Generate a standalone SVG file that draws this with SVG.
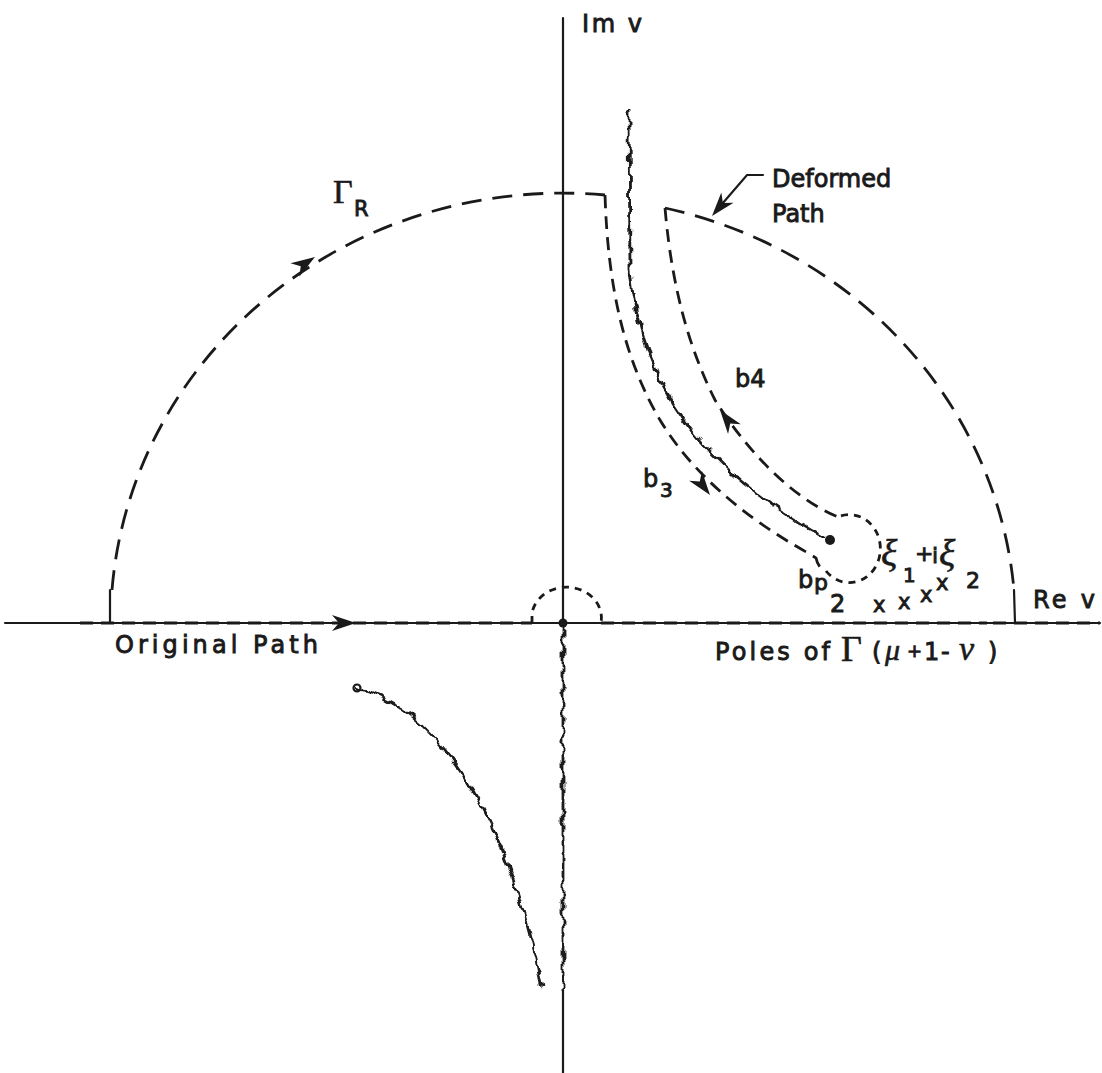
<svg xmlns="http://www.w3.org/2000/svg" width="1102" height="1073" viewBox="0 0 1102 1073">
<style>
.ln{fill:none;stroke:#1a1a1a;stroke-width:2.2;stroke-linecap:round}
.dl{fill:none;stroke:#1a1a1a;stroke-width:2.8;stroke-dasharray:20 11}
.dm{fill:none;stroke:#1a1a1a;stroke-width:2.8;stroke-dasharray:13 8}
.ds{fill:none;stroke:#1a1a1a;stroke-width:2.8;stroke-dasharray:7 6}
.wg{fill:none;stroke:#1a1a1a;stroke-width:2.8;stroke-linejoin:round;filter:url(#wiggle)}
.t{font-family:"DejaVu Sans","Liberation Sans",sans-serif;fill:#1a1a1a;stroke:#1a1a1a;stroke-width:0.9}
.m{font-family:"Liberation Serif","DejaVu Serif",serif;fill:#1a1a1a;stroke:#1a1a1a;stroke-width:0.6}
.ah{fill:#1a1a1a}
.dot{fill:#1a1a1a}
</style>
<defs>
<filter id="wiggle" filterUnits="userSpaceOnUse" x="0" y="0" width="1102" height="1073">
<feTurbulence type="fractalNoise" baseFrequency="0.11" numOctaves="1" seed="5" result="n"/>
<feDisplacementMap in="SourceGraphic" in2="n" scale="10" xChannelSelector="R" yChannelSelector="G"/>
</filter>
<path id="arrow" d="M0,0 L-24,-8 L-17,0 L-24,8 Z"/>
</defs>
<rect width="1102" height="1073" fill="#ffffff"/>

<g id="axes">
<line class="ln" x1="5" y1="623" x2="1100" y2="623"/>
<line class="ln" x1="563" y1="18" x2="563" y2="623"/>
<line class="ln" x1="563" y1="990" x2="563" y2="1073"/>
</g>

<g id="connectors">
<path id="original-path" class="dm" d="M80,623 L532,623 M601,623 L987,623 M993,623 L1100,623"/>
<path id="indent" class="ds" d="M532,623 L532,613 A34,30 0 0 1 601,623"/>
<path id="gamma-r" class="dl" d="M112,590 A452,430 0 0 1 605,195"/>
<line class="ln" x1="110" y1="590" x2="110" y2="623"/>
<path id="b3-path" class="dm" d="M605,195 C608,290 625,360 660,420 C690,470 740,515 808,553 L816,558 Q818,568 826,571"/>
<path id="keyhole" class="ds" d="M826,571 A31,34 0 1 0 838,517"/>
<path id="b4-path" class="dm" d="M665,208 C672,290 690,350 715,400 C740,440 785,495 838,517"/>
<path id="deformed-arc" class="dl" d="M665,208 A452,430 0 0 1 1014,590"/>
<line class="ln" x1="1014" y1="590" x2="1015" y2="623"/>
<path id="leader" class="ln" d="M763,175 L747,175 L716,211"/>
<use href="#arrow" class="ah" transform="translate(315,257) rotate(-33)"/>
<use href="#arrow" class="ah" transform="translate(356,623)"/>
<use href="#arrow" class="ah" transform="translate(710,495) rotate(53)"/>
<use href="#arrow" class="ah" transform="translate(720,410) rotate(-127)"/>
<use href="#arrow" class="ah" transform="translate(712,216) rotate(130)"/>
</g>

<g id="branch-cuts">
<path class="wg" d="M629,110 L630,270 C640,380 700,470 825,538"/>
<path class="wg" d="M563,623 L563,990"/>
<path class="wg" d="M357,688 C420,705 500,780 542,988"/>
</g>

<g id="points">
<circle class="dot" cx="563" cy="623" r="4.5"/>
<circle class="dot" cx="830" cy="540" r="5"/>
<circle cx="357" cy="688" r="3.5" fill="none" stroke="#1a1a1a" stroke-width="2.2"/>
</g>

<g id="poles">
<text class="t" font-size="21" x="873" y="612">x</text>
<text class="t" font-size="21" x="898" y="609">x</text>
<text class="t" font-size="21" x="920" y="602">x</text>
<text class="t" font-size="21" x="936" y="590">x</text>
</g>

<g id="labels">
<text class="t" font-size="24" x="582" y="32" textLength="60" lengthAdjust="spacing">Im v</text>
<text class="m" font-size="34" x="333" y="203">Γ</text>
<text class="t" font-size="21" x="354" y="216">R</text>
<text class="t" font-size="24" x="772" y="187">Deformed</text>
<text class="t" font-size="24" x="772" y="222">Path</text>
<text class="t" font-size="24" x="735" y="387">b4</text>
<text class="t" font-size="24" x="643" y="487">b</text>
<text class="t" font-size="20" x="660" y="497">3</text>
<text class="t" font-size="24" x="798" y="588">b</text>
<text class="t" font-size="22" x="814" y="590">p</text>
<text class="t" font-size="24" x="830" y="612">2</text>
<text class="m" font-size="38" font-style="italic" x="881" y="566">ξ</text>
<text class="t" font-size="20" x="903" y="582">1</text>
<text class="t" font-size="22" x="915" y="561">+</text>
<text class="t" font-size="22" x="932" y="563">i</text>
<text class="m" font-size="38" font-style="italic" x="939" y="566">ξ</text>
<text class="t" font-size="22" x="966" y="588">2</text>
<text class="t" font-size="24" x="1033" y="608" textLength="62" lengthAdjust="spacing">Re v</text>
<text class="t" font-size="24" x="115" y="653" textLength="203" lengthAdjust="spacing">Original Path</text>
<text class="t" font-size="24" x="715" y="660" textLength="115" lengthAdjust="spacing">Poles of</text>
<text class="m" font-size="36" x="841" y="661">Γ</text>
<text class="t" font-size="24" x="872" y="660">(</text>
<text class="m" font-size="30" font-style="italic" x="885" y="660">μ</text>
<text class="t" font-size="18" x="907" y="657">+</text>
<text class="t" font-size="24" x="924" y="660">1</text>
<text class="t" font-size="24" x="941" y="660">-</text>
<text class="m" font-size="34" font-style="italic" x="959" y="660">ν</text>
<text class="t" font-size="24" x="988" y="660">)</text>
</g>
</svg>
